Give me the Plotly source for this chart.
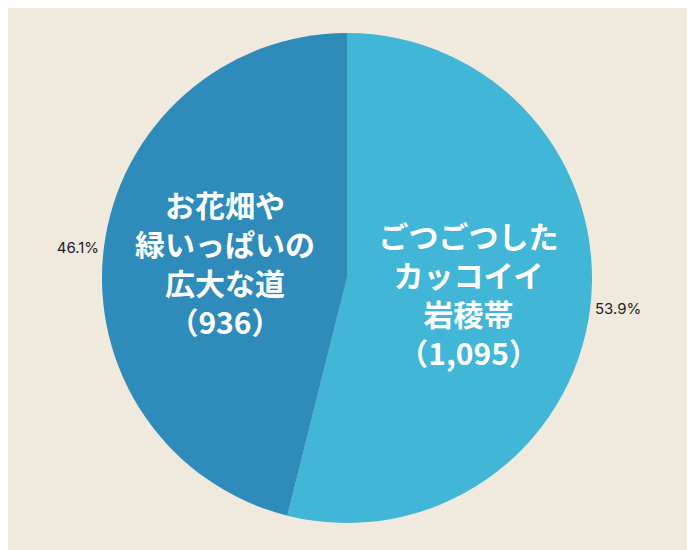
import plotly.graph_objects as go

names = ["ごつごつした<br>カッコイイ<br>岩稜帯", "お花畑や<br>緑いっぱいの<br>広大な道"]
counts = [1095, 936]
colors = ["#41B6D6", "#2E8BBA"]

inner = [f"{n}<br>（{c:,}）" for n, c in zip(names, counts)]

fig = go.Figure()
fig.add_trace(go.Pie(
    values=counts, text=inner, sort=False, direction="clockwise", rotation=0,
    marker=dict(colors=colors, line=dict(width=0)),
    texttemplate="%{text}", textposition="inside", insidetextorientation="horizontal",
    insidetextfont=dict(family="Noto Sans CJK JP", size=30, color="white", weight="bold"),
    hoverinfo="skip", showlegend=False,
))
fig.add_trace(go.Pie(
    values=counts, sort=False, direction="clockwise", rotation=0,
    marker=dict(colors=["rgba(0,0,0,0)"] * 2, line=dict(width=0)),
    texttemplate="%{percent:.1%}", textposition="outside",
    outsidetextfont=dict(family="Inter", size=15, color="#222"),
    hoverinfo="skip", showlegend=False,
))
fig.update_layout(
    width=695, height=550,
    paper_bgcolor="#F0E9DE", plot_bgcolor="#F0E9DE",
    margin=dict(l=94, r=111, t=22, b=32, autoexpand=False),
)
fig.write_html("out.html")
